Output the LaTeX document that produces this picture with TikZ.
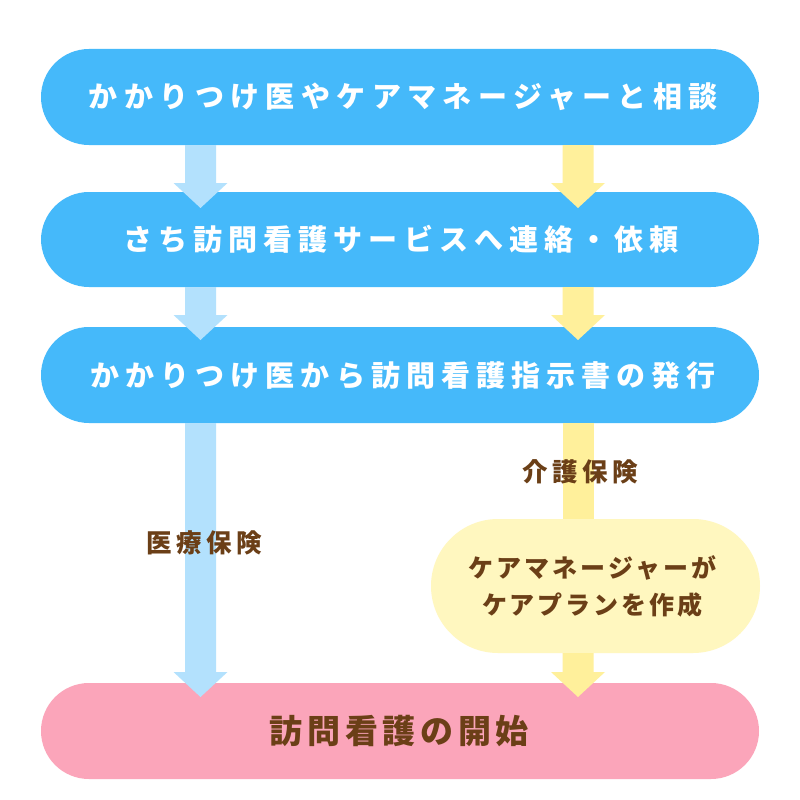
\documentclass[tikz,border=0pt]{standalone}
\usepackage{fontspec}
\newfontfamily\jp{Noto Sans CJK JP}
\definecolor{pillblue}{RGB}{69,185,250}
\definecolor{arrblue}{RGB}{179,225,253}
\definecolor{arryel}{RGB}{255,240,155}
\definecolor{pillyel}{RGB}{255,247,191}
\definecolor{pillpink}{RGB}{251,165,186}
\definecolor{txtbrown}{RGB}{107,63,23}
\newcommand\fatarrow[5]{%
  \fill[#5] (#1-15.5,#2) -- (#1+15.5,#2) -- (#1+15.5,#3) -- (#1+27,#3) -- (#1,#4) -- (#1-27,#3) -- (#1-15.5,#3) -- cycle;}
\begin{document}
\begin{tikzpicture}[x=1pt,y=-1pt,
  pill/.style={inner sep=0pt, rounded corners=48pt, minimum width=718pt, minimum height=96pt},
  wtxt/.style={text=white, font=\fontsize{29}{32}\jp\bfseries},
  lbl/.style={text=txtbrown, inner sep=0pt, font=\fontsize{25.5}{30}\jp\bfseries\addfontfeatures{LetterSpace=18}}]
\useasboundingbox (0,0) rectangle (800,800);
\fill[white] (0,0) rectangle (800,800);
% pills
\node[pill, fill=pillblue, wtxt] (p1) at (400,97) {\addfontfeatures{LetterSpace=22}かかりつけ医やケアマネージャーと相談\kern-.22em};
\node[pill, fill=pillblue, minimum height=95pt, wtxt] (p2) at (400,239.5) {\hspace*{-4pt}\addfontfeatures{LetterSpace=21}さち訪問看護サービスへ連絡・依頼\kern-.21em};
\node[pill, fill=pillblue, wtxt] (p3) at (400,375) {\addfontfeatures{LetterSpace=21}かかりつけ医から訪問看護指示書の発行\kern-.21em};
% yellow shaft behind yellow pill
\fill[arryel] (562.5,423) rectangle (593.5,520);
\node[inner sep=0pt, rounded corners=67pt, minimum width=329pt, minimum height=134pt, fill=pillyel] (py) at (595.5,586) {};
\node[text=txtbrown, align=center, inner sep=0pt, font=\fontsize{25}{37}\jp\bfseries\addfontfeatures{LetterSpace=12}] (pyt) at (591,586)
  {ケアマネージャーが\kern-.12em\\ケアプランを作成\kern-.12em};
\node[pill, fill=pillpink, text=txtbrown, font=\fontsize{33}{36}\jp\bfseries\addfontfeatures{LetterSpace=14}] (p4) at (400,731) {\hspace*{-6pt}訪問看護の開始\kern-.14em};
% arrows
\fatarrow{200.5}{145}{183}{208}{arrblue}
\fatarrow{578}{145}{183}{208}{arryel}
\fatarrow{200.5}{287}{315}{340}{arrblue}
\fatarrow{578}{287}{315}{340}{arryel}
\fatarrow{200.5}{423}{672}{697}{arrblue}
\fatarrow{578}{653}{672}{697}{arryel}
% labels
\node[lbl] (l1) at (578,472) {介護保険\kern-.18em};
\node[lbl] (l2) at (202,543) {医療保険\kern-.18em};
\end{tikzpicture}
\end{document}
